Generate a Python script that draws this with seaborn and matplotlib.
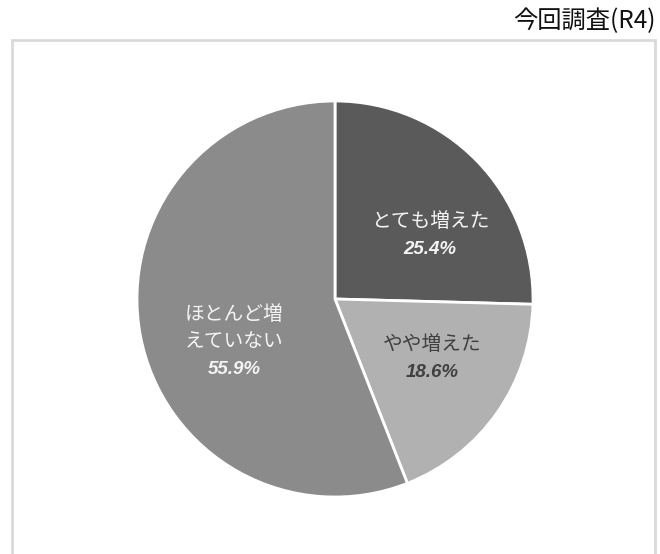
import matplotlib.pyplot as plt
import seaborn as sns
from matplotlib.patches import Rectangle

# data
labels = ["とても増えた", "やや増えた", "ほとんど増えていない"]
label_lines = [["とても増えた"], ["やや増えた"], ["ほとんど増", "えていない"]]
shares = [25.4, 18.6, 55.9]
colors = ["#5a5a5a", "#b1b1b1", "#8b8b8b"]
text_colors = ["#f4f4f4", "#404040", "#f4f4f4"]
title = "今回調査(R4)"

sns.set_theme(style="white")
plt.rcParams['font.family'] = ['Noto Sans CJK JP', 'DejaVu Sans']

W, H = 660, 554
fig = plt.figure(figsize=(W / 100, H / 100), dpi=100)

# light frame around the chart (bottom edge runs off the image)
fig.patches.append(Rectangle((12 / W, -0.05), (655 - 12) / W, 1.05 - 40 / H,
                             transform=fig.transFigure, fill=False,
                             edgecolor="#dadada", linewidth=2))

fig.text(656 / W, 1 - 21 / H, title, ha="right", va="center", fontsize=17.5, color="#111111")

# pie centered at (335, 299) px with radius 198 px
cx, cy, r = 335, 299, 198
ax = fig.add_axes([(cx - r) / W, (H - cy - r) / H, 2 * r / W, 2 * r / H])
wedges, _ = ax.pie(shares, colors=colors, startangle=90, counterclock=False,
                   wedgeprops=dict(edgecolor="white", linewidth=2))
ax.set_xlim(-1, 1)
ax.set_ylim(-1, 1)
ax.set_aspect("equal")
ax.axis("off")

# label anchor points (first line, in pie units)
spots = [(0.48, 0.39), (0.49, -0.232), (-0.51, -0.076)]
step = 0.139
for (x, y), lines, val, tc in zip(spots, label_lines, shares, text_colors):
    for i, line in enumerate(lines):
        ax.text(x, y - step * i, line, ha="center", va="center", fontsize=14.2, color=tc)
    ax.text(x, y - step * len(lines), f"{val:.1f}%", ha="center", va="center", fontsize=13.5,
            color=tc, fontweight="bold", fontstyle="italic", family="Liberation Sans")

fig.savefig("out.png", dpi=100)
